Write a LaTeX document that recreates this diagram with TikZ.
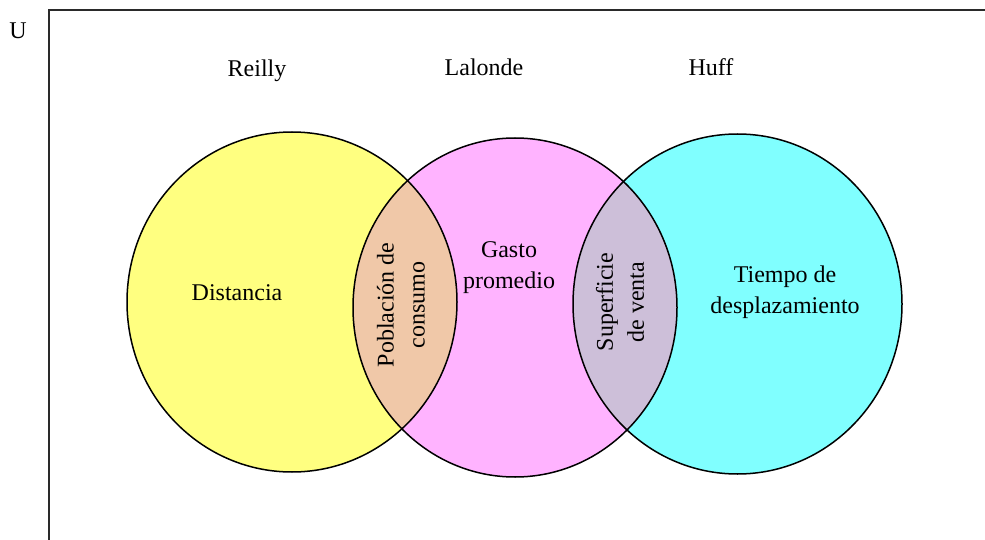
\documentclass[tikz,border=0pt]{standalone}
\usepackage{fontspec}
\setmainfont{Liberation Serif}
\definecolor{cyel}{HTML}{FFFF80}
\definecolor{cpink}{HTML}{FFB3FF}
\definecolor{ccyan}{HTML}{80FFFF}
\definecolor{cpeach}{HTML}{F0C8A8}
\definecolor{clav}{HTML}{CDBFD9}
\definecolor{cframe}{HTML}{2A2A2A}
\begin{document}
\begin{tikzpicture}[x=1pt,y=-1pt,
  lbl/.style={font=\fontsize{24}{31}\selectfont, align=center, inner sep=0pt, text=black},
  outline/.style={draw=black, line width=1.5pt}]
\useasboundingbox (0,0) rectangle (985,540);
% fills
\fill[cyel] (292,302) ellipse [x radius=165pt, y radius=170pt];
\fill[cpink] (515,307.5) ellipse [x radius=162pt, y radius=169.5pt];
\fill[ccyan] (737.5,304) ellipse [x radius=164.5pt, y radius=170pt];
\begin{scope}
  \clip (292,302) ellipse [x radius=165pt, y radius=170pt];
  \fill[cpeach] (515,307.5) ellipse [x radius=162pt, y radius=169.5pt];
\end{scope}
\begin{scope}
  \clip (515,307.5) ellipse [x radius=162pt, y radius=169.5pt];
  \fill[clav] (737.5,304) ellipse [x radius=164.5pt, y radius=170pt];
\end{scope}
% outlines
\draw[outline] (292,302) ellipse [x radius=165pt, y radius=170pt];
\draw[outline] (515,307.5) ellipse [x radius=162pt, y radius=169.5pt];
\draw[outline] (737.5,304) ellipse [x radius=164.5pt, y radius=170pt];
% frame
\draw[cframe, line width=2pt] (49,540) -- (49,10) -- (985,10);
% labels
\node[lbl] (u) at (18,31) {U};
\node[lbl] (reilly) at (257,71) {Reilly};
\node[lbl] (lalonde) at (484,67) {Lalonde};
\node[lbl] (huff) at (711,67) {Huff};
\node[lbl] (dist) at (237,293) {Distancia};
\node[lbl] (gasto) at (509,268) {Gasto\\promedio};
\node[lbl] (tiempo) at (785,292) {Tiempo de\\desplazamiento};
\node[lbl, rotate=90] (pobl) at (401,305) {Población de\\consumo};
\node[lbl, rotate=90] (sup) at (620,302) {Superficie\\de venta};
\end{tikzpicture}
\end{document}
